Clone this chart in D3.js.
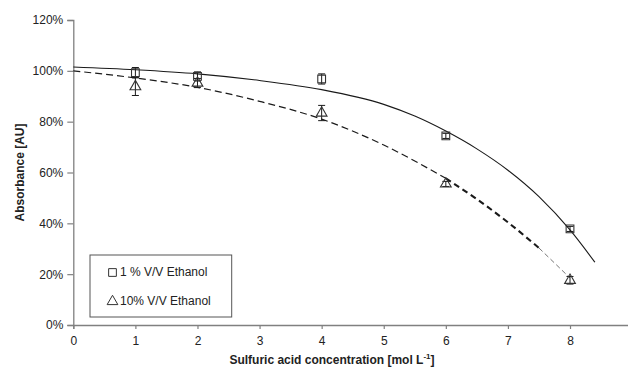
<!DOCTYPE html>
<html>
<head>
<meta charset="utf-8">
<script src="https://cdn.jsdelivr.net/npm/d3@7"></script>
<style>
  body { margin: 0; background: #fff; }
  text { font-family: "Liberation Sans", Arial, sans-serif; }
</style>
</head>
<body>
<svg id="chart" width="628" height="373"></svg>
<script>
// ---- data ----
const concentrations = [1, 2, 4, 6, 8];
const ethanol1 = [99.3, 97.8, 96.8, 74.4, 37.8];
const ethanol1Err = [2.0, 1.8, 2.0, 1.0, 1.0];
const ethanol10 = [93.8, 95.2, 83.4, 55.5, 17.6];
const ethanol10Err = [3.5, 1.8, 3.0, 1.0, 1.5];
// trendline curves
const trend1X = [0, 1, 2, 3, 4, 5, 5.5, 6, 6.5, 7, 7.5, 8, 8.4];
const trend1Y = [101.5, 100.4, 98.8, 96.2, 92.6, 86.8, 82.2, 76.3, 69.3, 60.9, 50.5, 37.4, 24.7];
const trend10X = [0, 1, 2, 3, 4, 5, 6, 6.5, 7, 7.5, 8];
const trend10Y = [100, 97.2, 93.5, 88.0, 81.0, 70.8, 57.7, 49.5, 40.4, 30.3, 18.5];
const xTicks = [0, 1, 2, 3, 4, 5, 6, 7, 8];
const yTicks = [0, 20, 40, 60, 80, 100, 120];
const legendLabels = ["1 % V/V Ethanol", "10% V/V Ethanol"];

// ---- layout ----
const svg = d3.select("#chart");
const x = d3.scaleLinear().domain([0, 9]).range([73.3, 632.1]);
const y = d3.scaleLinear().domain([0, 120]).range([325, 20]);
const axisColor = "#808080";
const textColor = "#222";
const lineColor = "#1a1a1a";

// y axis
const yAxis = svg.append("g").attr("transform", `translate(${x(0)},0)`)
  .call(d3.axisLeft(y).tickValues(yTicks).tickSize(6).tickPadding(4).tickFormat(d => d + "%"));
// x axis
const xAxis = svg.append("g").attr("transform", `translate(0,${y(0)})`)
  .call(d3.axisBottom(x).tickValues(xTicks).tickSize(4).tickPadding(7).tickFormat(d3.format("d")));
[yAxis, xAxis].forEach(g => {
  g.select(".domain").attr("stroke", axisColor).attr("stroke-width", 1.3);
  g.selectAll(".tick line").attr("stroke", axisColor).attr("stroke-width", 1.2);
  g.selectAll(".tick text").attr("fill", textColor).style("font-size", "12px");
});

// axis titles
svg.append("text")
  .attr("transform", `translate(21,${(y(0)+y(120))/2}) rotate(-90)`)
  .attr("text-anchor", "middle").attr("dominant-baseline", "middle")
  .style("font-size", "12px").style("font-weight", "bold").attr("fill", textColor)
  .text("Absorbance [AU]");
const xt = svg.append("text")
  .attr("x", 332).attr("y", 364)
  .attr("text-anchor", "middle")
  .style("font-size", "12px").style("font-weight", "bold").attr("fill", textColor);
xt.append("tspan").text("Sulfuric acid concentration [mol L");
xt.append("tspan").attr("dy", -5).style("font-size", "8px").text("-1");
xt.append("tspan").attr("dy", 5).text("]");

// trendlines
const line = d3.line().x(d => x(d[0])).y(d => y(d[1])).curve(d3.curveMonotoneX);
const t1 = trend1X.map((v, i) => [v, trend1Y[i]]);
const t10 = trend10X.map((v, i) => [v, trend10Y[i]]);
svg.append("path").attr("d", line(t1)).attr("fill", "none")
  .attr("stroke", lineColor).attr("stroke-width", 1.1);
// dashed, with the heavier middle section and faint tail seen in the picture
const t10a = t10.filter(d => d[0] <= 6);
const t10b = t10.filter(d => d[0] >= 6 && d[0] <= 7.5);
const t10c = t10.filter(d => d[0] >= 7.5);
svg.append("path").attr("d", line(t10a)).attr("fill", "none")
  .attr("stroke", lineColor).attr("stroke-width", 1.2).attr("stroke-dasharray", "7,4");
svg.append("path").attr("d", line(t10b)).attr("fill", "none")
  .attr("stroke", lineColor).attr("stroke-width", 2.1).attr("stroke-dasharray", "6,4");
svg.append("path").attr("d", line(t10c)).attr("fill", "none")
  .attr("stroke", "#555").attr("stroke-width", 0.8).attr("stroke-dasharray", "5,3");

// error bars
function errorBars(vals, errs) {
  const g = svg.append("g").attr("stroke", lineColor).attr("stroke-width", 1);
  concentrations.forEach((c, i) => {
    const cx = x(c), top = y(vals[i] + errs[i]), bot = y(vals[i] - errs[i]);
    g.append("line").attr("x1", cx).attr("x2", cx).attr("y1", top).attr("y2", bot);
    g.append("line").attr("x1", cx - 3.5).attr("x2", cx + 3.5).attr("y1", top).attr("y2", top);
    g.append("line").attr("x1", cx - 3.5).attr("x2", cx + 3.5).attr("y1", bot).attr("y2", bot);
  });
}
errorBars(ethanol1, ethanol1Err);
errorBars(ethanol10, ethanol10Err);

// markers
const sq = d3.symbol().type(d3.symbolSquare).size(60);
const tri = d3.symbol().type(d3.symbolTriangle).size(50);
svg.append("g").selectAll("path").data(concentrations).join("path")
  .attr("d", sq).attr("transform", (d, i) => `translate(${x(d)},${y(ethanol1[i])})`)
  .attr("fill", "none").attr("stroke", "#333").attr("stroke-width", 1.1);
svg.append("g").selectAll("path").data(concentrations).join("path")
  .attr("d", tri).attr("transform", (d, i) => `translate(${x(d)},${y(ethanol10[i])})`)
  .attr("fill", "none").attr("stroke", "#333").attr("stroke-width", 1.1);

// legend
const lg = svg.append("g");
lg.append("rect").attr("x", 90).attr("y", 255).attr("width", 141.7).attr("height", 62)
  .attr("fill", "#fff").attr("stroke", "#555").attr("stroke-width", 1);
const rowsY = [272.5, 301.5];
lg.append("path").attr("d", sq).attr("transform", `translate(112.5,${rowsY[0]})`)
  .attr("fill", "none").attr("stroke", "#333").attr("stroke-width", 1);
lg.append("path").attr("d", tri).attr("transform", `translate(112.5,${rowsY[1]})`)
  .attr("fill", "none").attr("stroke", "#333").attr("stroke-width", 1);
legendLabels.forEach((t, i) => {
  lg.append("text").attr("x", 120).attr("y", rowsY[i]).attr("dominant-baseline", "middle")
    .style("font-size", "12px").attr("fill", textColor).text(t);
});
</script>
</body>
</html>
